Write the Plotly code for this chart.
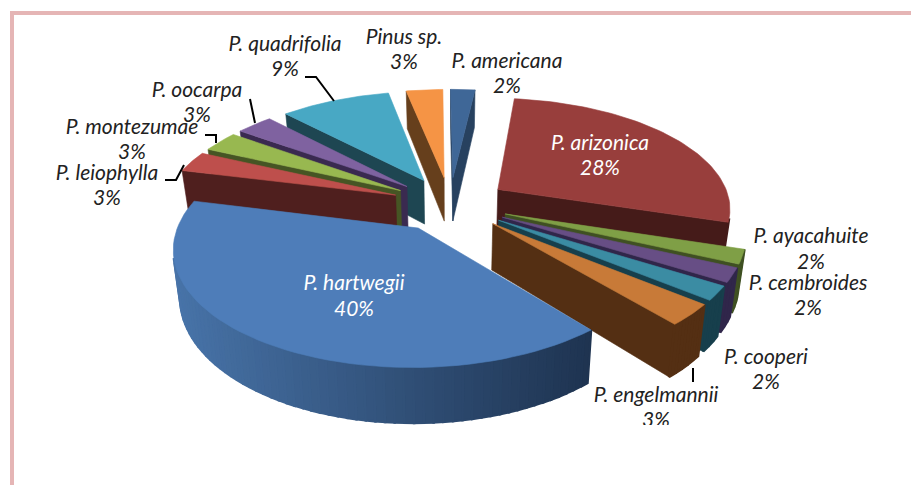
import math
import plotly.graph_objects as go

# ---- data ----
species = ["P. americana", "P. arizonica", "P. ayacahuite", "P. cembroides", "P. cooperi",
           "P. engelmannii", "P. hartwegii", "P. leiophylla", "P. montezumae", "P. oocarpa",
           "P. quadrifolia", "Pinus sp."]
percent = [2, 28, 2, 2, 2, 3, 40, 3, 3, 3, 9, 3]

# ---- styles ----
top_colors = ["#3F6797", "#983E3C", "#7F9F46", "#674E85", "#3B8CA3", "#C87A38",
              "#4E7DB9", "#BE4F4C", "#98B850", "#7F62A0", "#48A8C4", "#F59445"]
wall_colors = ["#27415F", "#451B19", "#3F5022", "#30264A", "#173F4C", "#542F13",
               "#1F3552", "#4F1F1E", "#465524", "#3A2A50", "#1E4652", "#663F1C"]
text_colors = ["#222222", "#FFFFFF", "#222222", "#222222", "#222222", "#222222",
               "#FFFFFF", "#222222", "#222222", "#222222", "#222222", "#222222"]
label_x = [507, 600, 811, 808, 766, 656, 354, 107, 132, 197, 285, 404]
name_y = [63, 145, 238, 285, 359, 397, 285, 175, 129, 92, 46, 39]
pct_y = [88, 170, 264, 310, 384, 422, 311, 200, 154, 117, 71, 64]

FONT = "Lato"
CX, CY, A, B, K = 450, 204, 233, 109.5, 0.155
EXPLODE, DEPTH, TAPER = 0.25, 45, 0.975
START = math.radians(-0.6)


def project(u, v, low=False):
    s = 1 / (1 + K * v)
    x = A * u * s
    y = CY - B * v * s
    if low:
        x *= TAPER
        y += DEPTH * s
    return CX + x, y


def point(t, mid, r, low=False):
    u = EXPLODE * math.sin(mid) + r * math.sin(t)
    v = EXPLODE * math.cos(mid) + r * math.cos(t)
    return project(u, v, low)


def cross(p):
    return (p[1][0] - p[0][0]) * (p[2][1] - p[1][1]) - (p[1][1] - p[0][1]) * (p[2][0] - p[1][0])


def mix(c1, c2, f):
    f = max(0, min(1, f))
    a = [int(c1[i:i + 2], 16) for i in (1, 3, 5)]
    b = [int(c2[i:i + 2], 16) for i in (1, 3, 5)]
    return "#%02X%02X%02X" % tuple(round(x + (y - x) * f) for x, y in zip(a, b))


fig = go.Figure()


def poly(pts, color, width=0.6):
    xs = [p[0] for p in pts] + [pts[0][0]]
    ys = [p[1] for p in pts] + [pts[0][1]]
    fig.add_trace(go.Scatter(x=xs, y=ys, mode="lines", fill="toself", fillcolor=color,
                             line=dict(color=color, width=width), hoverinfo="skip",
                             showlegend=False))


total = sum(percent)
slices = []
angle = START
for i, value in enumerate(percent):
    sweep = value / total * 2 * math.pi
    slices.append((i, angle, angle + sweep, angle + sweep / 2))
    angle += sweep

# painter's order: far slices first
for i, t0, t1, mid in sorted(slices, key=lambda s: -math.cos(s[3])):
    wall = wall_colors[i]
    for t, sign in ((t0, -1), (t1, 1)):
        q = [point(t, mid, 0), point(t, mid, 1), point(t, mid, 1, True), point(t, mid, 0, True)]
        if cross(q) * sign > 0:
            poly(q, wall)
    steps = max(2, int((t1 - t0) / math.radians(2)))
    arc = [t0 + (t1 - t0) * j / steps for j in range(steps + 1)]
    for a0, a1 in zip(arc, arc[1:]):
        q = [point(a0, mid, 1), point(a1, mid, 1), point(a1, mid, 1, True), point(a0, mid, 1, True)]
        if cross(q) < 0:
            color = wall
            if species[i] == "P. hartwegii":
                color = mix("#4874A9", "#1E3350", (q[0][0] - 170) / 427)
            poly(q, color, 2.5)
    poly([point(t0, mid, 0)] + [point(t0 + (t1 - t0) * j / 60, mid, 1) for j in range(61)], top_colors[i])

names = [f"<i>{s}</i>" for s in species]
pcts = [f"<i>{p}%</i>" for p in percent]
for ys, texts in ((name_y, names), (pct_y, pcts)):
    fig.add_trace(go.Scatter(x=label_x, y=ys, text=texts, mode="text", textposition="middle center",
                             textfont=dict(family=FONT, size=21, color=text_colors),
                             hoverinfo="skip", showlegend=False, cliponaxis=True))

leaders = ["M305,77 L316,77 L334,101", "M250,99 L255,123", "M205,135 L216,135 L216,143",
           "M165,180 L176,180 L184,165", "M693,368 L693,382"]
shapes = [dict(type="path", path=p, xref="x", yref="y", line=dict(color="#000000", width=2), layer="above")
          for p in leaders]
FRAME = "#E5B5B5"
shapes += [
    dict(type="rect", xref="paper", yref="paper", x0=10 / 911, x1=1, y0=1 - 15 / 485, y1=1 - 11 / 485,
         fillcolor=FRAME, line=dict(width=0), layer="below"),
    dict(type="rect", xref="paper", yref="paper", x0=10 / 911, x1=14 / 911, y0=0, y1=1 - 11 / 485,
         fillcolor=FRAME, line=dict(width=0), layer="below"),
]

fig.update_layout(
    width=911, height=485, autosize=False, margin=dict(l=0, r=0, t=0, b=0),
    paper_bgcolor="white", plot_bgcolor="rgba(0,0,0,0)", showlegend=False, shapes=shapes,
    xaxis=dict(range=[0, 911], visible=False, fixedrange=True),
    yaxis=dict(range=[425, 0], domain=[60 / 485, 1], visible=False, fixedrange=True),
)
fig.write_html("out.html", config={"displayModeBar": False}, post_script="document.body.style.margin='0';")
